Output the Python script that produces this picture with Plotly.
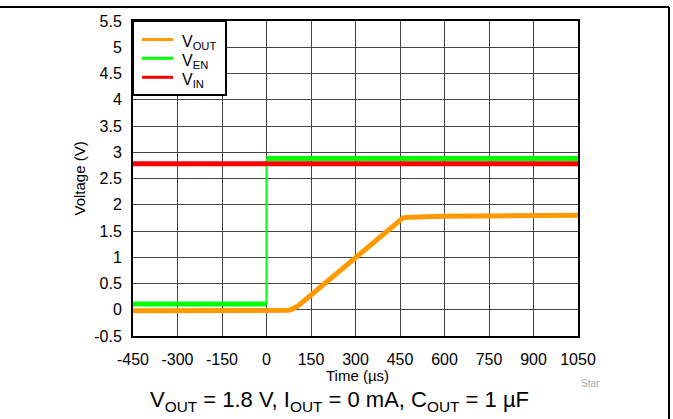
import plotly.graph_objects as go

# ---- data ----
vout_t = [-450, 75, 90, 110, 460, 480, 600, 750, 1050]
vout_v = [-0.02, -0.01, 0.02, 0.09, 1.75, 1.76, 1.78, 1.79, 1.80]

ven_t = [-450, 0, 0, 1050]
ven_v = [0.11, 0.11, 2.88, 2.88]

vin_t = [-450, 1050]
vin_v = [2.78, 2.78]

series_names = ["V<sub>OUT</sub>", "V<sub>EN</sub>", "V<sub>IN</sub>"]

x_ticks = [-450, -300, -150, 0, 150, 300, 450, 600, 750, 900, 1050]
x_labels = ["-450", "-300", "-150", "0", "150", "300", "450", "600", "750", "900", "1050"]
y_ticks = [-0.5, 0, 0.5, 1, 1.5, 2, 2.5, 3, 3.5, 4, 4.5, 5, 5.5]
y_labels = ["-0.5", "0", "0.5", "1", "1.5", "2", "2.5", "3", "3.5", "4", "4.5", "5", "5.5"]

FONT = "Liberation Sans, Arial, sans-serif"
ORANGE = "#FF9900"
GREEN = "#00FF00"
RED = "#FF0000"
colors = [ORANGE, GREEN, RED]

fig = go.Figure()
fig.add_trace(go.Scatter(x=vout_t, y=vout_v, mode="lines", name=series_names[0],
                         line=dict(color=ORANGE, width=5), showlegend=False))
# green: thick flat parts, thin step
fig.add_trace(go.Scatter(x=[ven_t[0], ven_t[1], None, ven_t[2], ven_t[3]],
                         y=[ven_v[0], ven_v[1], None, ven_v[2], ven_v[3]],
                         mode="lines", name=series_names[1],
                         line=dict(color=GREEN, width=5), connectgaps=False,
                         showlegend=False))
fig.add_trace(go.Scatter(x=ven_t[1:3], y=ven_v[1:3], mode="lines", showlegend=False,
                         name=series_names[1], line=dict(color=GREEN, width=2)))
fig.add_trace(go.Scatter(x=vin_t, y=vin_v, mode="lines", name=series_names[2],
                         line=dict(color=RED, width=5), showlegend=False))

L, R, T, B = 133, 95, 21, 83
W, H = 673, 419
pw, ph = W - L - R, H - T - B


def px(x):
    return (x - L) / pw


def py(y):
    return (H - B - y) / ph


shapes = [
    dict(type="line", xref="paper", yref="paper", x0=px(-2), x1=px(669),
         y0=py(7), y1=py(7), line=dict(color="black", width=2)),
    dict(type="line", xref="paper", yref="paper", x0=px(669), x1=px(669),
         y0=py(7), y1=py(425), line=dict(color="black", width=2)),
    # legend box
    dict(type="rect", xref="paper", yref="paper", x0=0, x1=px(226),
         y0=py(95), y1=1, fillcolor="white", line=dict(color="black", width=2),
         layer="above"),
]
annotations = [
    dict(text="Time (µs)", xref="paper", yref="paper", x=px(357), y=py(375),
         xanchor="center", yanchor="middle", showarrow=False, font=dict(size=15)),
    dict(text="Voltage (V)", xref="paper", yref="paper", x=px(79), y=0.5,
         xanchor="center", yanchor="middle", textangle=-90, showarrow=False,
         font=dict(size=15)),
    dict(text="V<sub>OUT</sub> = 1.8 V, I<sub>OUT</sub> = 0 mA, C<sub>OUT</sub> = 1 µF",
         xref="paper", yref="paper", x=px(339), y=py(401),
         xanchor="center", yanchor="middle", showarrow=False, font=dict(size=22)),
    dict(text="Star", xref="paper", yref="paper", x=px(590), y=py(383),
         xanchor="center", yanchor="middle", showarrow=False,
         font=dict(size=10, color="#aaaaaa")),
]
legend_rows = [39.5, 58.3, 77.3]
for name, col, ly in zip(series_names, colors, legend_rows):
    shapes.append(dict(type="line", xref="paper", yref="paper", x0=px(142), x1=px(173),
                       y0=py(ly), y1=py(ly), line=dict(color=col, width=3),
                       layer="above"))
    annotations.append(dict(text=name, xref="paper", yref="paper", x=px(180),
                            y=py(ly + 3), xanchor="left", yanchor="middle",
                            showarrow=False, font=dict(size=16)))

fig.update_layout(
    width=W, height=H,
    margin=dict(l=L, r=R, t=T, b=B),
    paper_bgcolor="white", plot_bgcolor="white",
    font=dict(family=FONT, color="black", size=16),
    showlegend=False,
    xaxis=dict(range=[-450, 1050], tickvals=x_ticks, ticktext=x_labels,
               showgrid=True, gridcolor="#444", gridwidth=1,
               showline=True, linecolor="black", linewidth=2, mirror=True,
               ticks="", ticklabelstandoff=8, tickfont=dict(size=16),
               zeroline=False),
    yaxis=dict(range=[-0.5, 5.5], tickvals=y_ticks, ticktext=y_labels,
               showgrid=True, gridcolor="#444", gridwidth=1,
               showline=True, linecolor="black", linewidth=2, mirror=True,
               ticks="", ticklabelstandoff=6, tickfont=dict(size=16),
               zeroline=False),
    shapes=shapes,
    annotations=annotations,
)

fig.write_html("out.html", config={"displayModeBar": False},
               post_script="document.body.style.margin='0';document.body.style.overflow='hidden';")
